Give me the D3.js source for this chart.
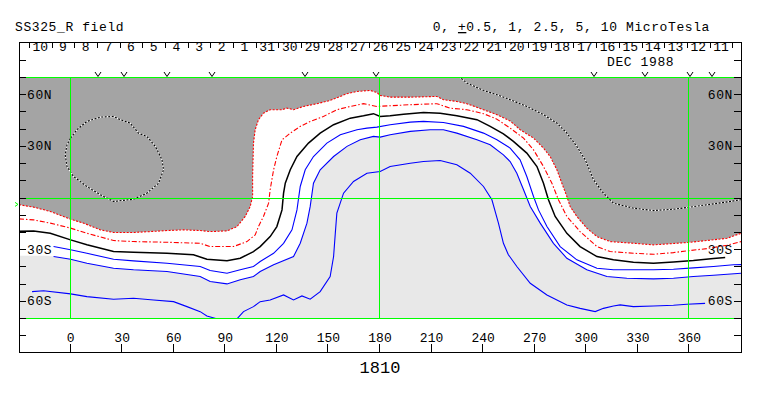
<!DOCTYPE html>
<html>
<head>
<meta charset="utf-8">
<style>
body { margin: 0; background: #fff; }
svg text { font-family: "Liberation Mono", "DejaVu Sans Mono", monospace; fill: #000; }
.frame, .tick { stroke: #000; stroke-width: 1; fill: none; shape-rendering: crispEdges; }
</style>
<script src="https://d3js.org/d3.v7.min.js"></script>
</head>
<body>
<div class="container"></div>
<script>
(function(){

// axis values
var lonTicks = [0, 30, 60, 90, 120, 150, 180, 210, 240, 270, 300, 330, 360];
var latTicks = [-70, -60, -50, -40, -30, -20, -10, 0, 10, 20, 30, 40, 50, 60, 70];
var latLabelVals = [60, 30, -30, -60];
var latLabelNames = ["60N", "30N", "30S", "60S"];
var gridLons = [0, 180, 360];
var gridLats = [-70, 0, 70];
var dayLabels = ["10","9","8","7","6","5","4","3","2","1","31","30","29","28","27","26",
                 "25","24","23","22","21","20","19","18","17","16","15","14","13","12","11"];
var dayStartLon = -24.25, dayStepLon = 13.2;
var passLons = [16, 30.8, 56.1, 82.2, 136.5, 177.6, 304.2, 334.2, 360.4, 373];
var markerLat = -4;

// contours, [lon, lat]
var zeroRing = [[0,34.5],[3.7,39.4],[9.5,44.2],[17.3,46.7],[25,47.1],[28.9,45.2],[34.7,43.2],[39.5,37.4],
  [44.4,35.5],[49.3,29.7],[53.2,21.9],[54.1,16.1],[51.2,8.3],[44.4,2.5],[36.6,-1],[25,-2.3],[17.3,1.6],
  [9.5,6.4],[1.7,12.2],[-2.1,18],[-3.1,24.8],[-2.1,30.6],[0,34.5]];
var zeroEast = [[225.7,70.5],[230.5,66.5],[240.2,62.2],[248,59.7],[255.7,56.8],[265.4,52.9],[275.1,48.1],
  [282.9,43.2],[288.7,37.4],[294.5,29.7],[299.4,21.9],[304.2,10.3],[310,2.5],[315.8,-3.3],[327.4,-6.2],
  [339.1,-7.6],[350.7,-6.8],[360.4,-5.6],[374,-3.7],[383.7,-2.3],[390,-1.3]];
var redOuter = [[-30,-4.2],[-21.5,-5.6],[-11.8,-8.1],[0,-12.6],[7.6,-14.9],[17.3,-18.8],[25,-20.3],[36.6,-20.3],
  [46.4,-19.8],[56.1,-19.2],[65.7,-18.8],[75.4,-19.2],[81.2,-19.8],[91,-19.4],[96.8,-16.9],[101.6,-11],
  [104.5,-5.2],[105.9,0.6],[105.9,12.2],[106.4,31.6],[107.4,39.4],[109.3,45.2],[112.2,49],[116.1,51],
  [123,51],[125.9,51.9],[129.7,51],[135.5,52.9],[143.3,54.5],[151,56.4],[160.8,60.3],[166.6,61.6],
  [174.3,62.2],[178.2,61],[180.1,59.3],[185.9,58.3],[197.6,58.3],[213.1,58.7],[216.9,56.8],[224.7,55.8],
  [230.5,54.5],[240.2,51],[248,48.1],[255.7,44.5],[261.5,39.4],[269.3,34.5],[275.1,28.7],[279,23.8],
  [282.9,16.1],[285.8,8.3],[288.7,0.6],[290.6,-5.2],[294.5,-11],[300.3,-17.8],[306.2,-22.7],[313.9,-25.6],
  [327.4,-26.6],[339.1,-27.5],[352.7,-26.6],[360.4,-26],[370.1,-25],[381.8,-23.7],[390,-20.8]];
var redInner = [[-30,-12.4],[-21.5,-13],[-11.8,-14.9],[0,-17.8],[9.5,-20.8],[25,-25],[36.6,-25.6],[56.1,-26],
  [75.4,-26.6],[81.2,-28.5],[94.8,-28.5],[102.6,-25.6],[107.4,-21.7],[109.3,-16.9],[112.2,-11],[115.2,-3.3],
  [116.1,4.5],[118.1,16.1],[120,23.8],[123,33.5],[127.8,37.4],[133.6,41.3],[139.4,44.2],[147.1,47.1],
  [154.9,51],[162.7,52.9],[170.4,54.5],[178.2,52.9],[185.9,53.3],[197.6,53.9],[213.1,54.5],[220.8,51.9],
  [230.5,51],[240.2,48.7],[248,45.5],[255.7,40.3],[263.5,34.5],[269.3,27.7],[275.1,18],[280,8.3],
  [283.8,-1.3],[288.7,-11],[296.4,-19.8],[306.2,-28.5],[313.9,-31.4],[327.4,-32.4],[339.1,-33],
  [350.7,-32],[360.4,-30.8],[370.1,-29.7],[381.8,-27.7],[390,-25.6]];
var blackLine = [[-30,-19.6],[-21.5,-19.4],[-11.8,-20.8],[0,-24.6],[9.5,-27.5],[25,-31.4],[36.6,-31.8],
  [56.1,-32.4],[71.5,-33.3],[79.3,-35.9],[91,-36.8],[98.7,-35.3],[106.4,-31.4],[110.3,-28.5],[116.1,-22.7],
  [120,-16.9],[123,-7.2],[123.9,2.5],[124.9,8.3],[127.8,16.1],[131.7,23.8],[138.4,31.6],[145.2,37.4],
  [153,42.3],[162.7,46.1],[170.4,47.5],[176.2,48.7],[180.1,47.1],[185.9,47.5],[193.7,48.4],[205.3,49.4],
  [215,49],[224.7,47.5],[236.4,45.2],[244.1,41.3],[251.8,37],[257.6,32.6],[265.4,25.8],[271.3,18],
  [275.1,8.3],[278,-1.3],[281.9,-11],[288.7,-20.8],[296.4,-28.5],[306.2,-34.3],[315.8,-36.2],
  [327.4,-37.6],[339.1,-38.2],[350.7,-37.4],[362.3,-36.6],[374,-35.5],[380.8,-34.9]];
var blueA = [[-9.9,-28.5],[0,-30.4],[9.5,-32.4],[25,-35.9],[36.6,-36.8],[56.1,-38.2],[75.4,-40.1],[81.2,-42.4],
  [91,-44],[98.7,-42],[106.4,-40.1],[110.3,-37.2],[118.1,-32.4],[123.9,-26.6],[128.8,-18.8],[131.7,-7.2],
  [133.6,6.4],[136.5,16.1],[141.3,23.8],[149.1,31.6],[156.9,36.5],[166.6,39.4],[172.4,40.3],[178.2,40.9],
  [185.9,42.3],[197.6,43.8],[205.3,44.2],[216.9,43.6],[228.6,41.3],[240.2,37.4],[248,33.5],[255.7,28.7],
  [261.5,21.9],[265.4,12.2],[269.3,0.6],[272.2,-7.2],[277.1,-16.9],[284.8,-28.5],[294.5,-36.2],
  [306.2,-41.1],[315.8,-42],[327.4,-42],[339.1,-42],[350.7,-41.7],[362.3,-40.9],[374,-40.1],
  [385.6,-39.1],[390,-39]];
var blueB = [[-9.9,-34.3],[0,-35.9],[9.5,-38.2],[25,-41.1],[36.6,-42],[56.1,-43],[75.4,-45.9],[81.2,-48.8],
  [91,-50.2],[98.7,-47.8],[106.4,-45.9],[110.3,-43],[118.1,-39.1],[129.7,-34.3],[133.6,-26.6],[137.5,-14.9],
  [139.4,-5.2],[141.3,8.3],[145.2,16.1],[153,23.8],[160.8,29.7],[168.5,33.5],[176.2,35.5],[180.1,35.1],
  [185.9,36.5],[197.6,38.4],[209.2,39.4],[216.9,39.4],[224.7,37.4],[236.4,33.5],[244.1,30.6],[251.8,24.8],
  [255.7,20.9],[259.6,14.1],[263.5,4.5],[267.4,-5.2],[273.2,-14.9],[280.9,-26.6],[288.7,-35.3],
  [300.3,-42],[312,-45.9],[323.6,-46.9],[339.1,-47.3],[350.7,-46.9],[362.3,-45.9],[374,-45.2],[390,-44]];
var blueC = [[-22.4,-54.7],[-15.7,-54.2],[0,-56],[9.5,-57.6],[25,-59.1],[36.6,-58.5],[48.3,-59.5],[59.9,-60.5],
  [67.7,-63.4],[75.4,-66.3],[79.3,-68.8],[85.1,-70.5],[96.8,-70.5],[100.6,-66.3],[106.4,-63.4],[110.3,-60.5],
  [116.1,-59.5],[123.9,-56.6],[129.7,-59.5],[134.6,-57.2],[139.4,-59.1],[145.2,-54.7],[151,-45.9],
  [153,-34.3],[154,-20.8],[154.9,-9.1],[158.8,2.5],[164.6,9.3],[172.4,14.1],[180.1,15.1],[185.9,18],
  [197.6,19.9],[205.3,20.9],[215,21.5],[224.7,19],[232.5,14.1],[240.2,6.4],[245.1,-1.3],[248.9,-14.9],
  [251.8,-26.6],[254.6,-33.1],[259.6,-40.1],[267.4,-49.8],[277.1,-56.6],[288.7,-62.4],[296.4,-64.4],
  [305.2,-66.3],[310,-64.4],[315.8,-63],[319.7,-62.4],[327.4,-63.4],[339.1,-63],[350.7,-62.6],
  [358.5,-62],[369.1,-61.5]];
var lightEdgeWest = [[-30,-33.8],[-14,-33.9]];

var width = 763, height = 396;
var frameTop = 42, frameBottom = 352;

var x = d3.scaleLinear().domain([-30, 390]).range([19, 741]);
var y = d3.scaleLinear().domain([-70, 70]).range([318, 77]);
var dayScale = d3.scaleLinear().domain([0, 1]).range([dayStartLon, dayStartLon + dayStepLon]);

var line = d3.line()
  .x(function(d){ return x(d[0]); })
  .y(function(d){ return y(d[1]); });

var svg = d3.select(".container")
  .append("svg")
  .attr("width", width)
  .attr("height", height);

svg.append("clipPath")
  .attr("id", "plotClip")
  .append("rect")
  .attr("x", x(-30)).attr("y", y(70))
  .attr("width", x(390) - x(-30)).attr("height", y(-70) - y(70));

var plot = svg.append("g").attr("clip-path", "url(#plotClip)");

// fills: dark gray, white south of outer red, light gray south of second blue
plot.append("rect")
  .attr("x", x(-30)).attr("y", y(70))
  .attr("width", x(390) - x(-30)).attr("height", y(-70) - y(70))
  .attr("fill", "#a4a4a4");

plot.append("path")
  .attr("d", line(redOuter.concat([[390, -71], [-30, -71]])))
  .attr("fill", "#ffffff");

plot.append("path")
  .attr("d", line(lightEdgeWest.concat(blueB, [[390, -71], [-30, -71]])))
  .attr("fill", "#e8e8e8");

// contour lines
function drawContour(data, color, w, dash){
  var p = plot.append("path")
    .attr("d", line(data))
    .attr("fill", "none")
    .attr("stroke", color)
    .attr("stroke-width", w);
  if (dash) p.attr("stroke-dasharray", dash);
  return p;
};

[zeroRing, zeroEast].forEach(function(c){
  drawContour(c, "#ffffff", 1.1, null);
  drawContour(c, "#000000", 1.1, "2,1.5");
});
drawContour(redOuter, "#ff0000", 1.1, "2,1.5");
drawContour(redInner, "#ff0000", 1.1, "5,2,1.5,2");
drawContour(blackLine, "#000000", 1.5, null);
drawContour(blueA, "#0000ff", 1.1, null);
drawContour(blueB, "#0000ff", 1.1, null);
drawContour(blueC, "#0000ff", 1.1, null);

// green grid
var grid = svg.append("g")
  .attr("stroke", "#00ff00")
  .attr("stroke-width", 1)
  .attr("shape-rendering", "crispEdges");

grid.selectAll(".gridV")
  .data(gridLons)
  .enter()
  .append("line")
  .attr("class", "gridV")
  .attr("x1", function(d){ return Math.round(x(d)) - 0.5; })
  .attr("x2", function(d){ return Math.round(x(d)) - 0.5; })
  .attr("y1", y(70)).attr("y2", y(-70));

grid.selectAll(".gridH")
  .data(gridLats)
  .enter()
  .append("line")
  .attr("class", "gridH")
  .attr("x1", x(-30)).attr("x2", x(390))
  .attr("y1", function(d){ return Math.round(y(d)) + 0.5; })
  .attr("y2", function(d){ return Math.round(y(d)) + 0.5; });

svg.append("path")
  .attr("d", "M" + (x(-30) - 4) + "," + (y(markerLat) - 2) + "l3,2l-3,2")
  .attr("fill", "none")
  .attr("stroke", "#00ff00")
  .attr("stroke-width", 1);

// frame
svg.append("rect")
  .attr("class", "frame")
  .attr("x", 19.5).attr("y", frameTop + 0.5)
  .attr("width", 722).attr("height", frameBottom - frameTop);

// latitude ticks, both sides
var latTick = svg.selectAll(".latTick")
  .data(latTicks)
  .enter()
  .append("g")
  .attr("class", "latTick");
latTick.append("line")
  .attr("class", "tick")
  .attr("x1", 19).attr("x2", 26)
  .attr("y1", function(d){ return Math.round(y(d)) + 0.5; })
  .attr("y2", function(d){ return Math.round(y(d)) + 0.5; });
latTick.append("line")
  .attr("class", "tick")
  .attr("x1", 734).attr("x2", 741)
  .attr("y1", function(d){ return Math.round(y(d)) + 0.5; })
  .attr("y2", function(d){ return Math.round(y(d)) + 0.5; });

[60.5, 335.5].forEach(function(yy){
  svg.append("line").attr("class", "tick").attr("x1", 19).attr("x2", 26).attr("y1", yy).attr("y2", yy);
  svg.append("line").attr("class", "tick").attr("x1", 734).attr("x2", 741).attr("y1", yy).attr("y2", yy);
});

svg.selectAll(".latLabelL")
  .data(latLabelVals)
  .enter()
  .append("text")
  .attr("x", 27)
  .attr("y", function(d){ return y(d) + 4.5; })
  .attr("font-size", "13px")
  .attr("letter-spacing", "0.6px")
  .text(function(d, i){ return latLabelNames[i]; });

svg.selectAll(".latLabelR")
  .data(latLabelVals)
  .enter()
  .append("text")
  .attr("x", 733)
  .attr("y", function(d){ return y(d) + 4.5; })
  .attr("text-anchor", "end")
  .attr("font-size", "13px")
  .attr("letter-spacing", "0.6px")
  .text(function(d, i){ return latLabelNames[i]; });

// longitude ticks and labels
svg.selectAll(".lonTick")
  .data(lonTicks)
  .enter()
  .append("line")
  .attr("class", "tick")
  .attr("x1", function(d){ return Math.round(x(d)) - 0.5; })
  .attr("x2", function(d){ return Math.round(x(d)) - 0.5; })
  .attr("y1", 344).attr("y2", frameBottom);

svg.selectAll(".lonLabel")
  .data(lonTicks)
  .enter()
  .append("text")
  .attr("x", function(d){ return x(d); })
  .attr("y", 342)
  .attr("text-anchor", "middle")
  .attr("font-size", "13px")
  .text(function(d){ return d; });

svg.append("text")
  .attr("x", x(180))
  .attr("y", 373)
  .attr("text-anchor", "middle")
  .attr("font-size", "17px")
  .text("1810");

// date strip
svg.selectAll(".dayTick")
  .data(d3.range(dayLabels.length + 1))
  .enter()
  .append("line")
  .attr("class", "tick")
  .attr("x1", function(d){ return Math.round(x(dayScale(d))) + 0.5; })
  .attr("x2", function(d){ return Math.round(x(dayScale(d))) + 0.5; })
  .attr("y1", 43).attr("y2", 48);

svg.selectAll(".dayLabel")
  .data(dayLabels)
  .enter()
  .append("text")
  .attr("x", function(d, i){ return x(dayScale(i + 0.5)); })
  .attr("y", 51)
  .attr("text-anchor", "middle")
  .attr("font-size", "13px")
  .text(function(d){ return d; });

svg.append("text")
  .attr("x", 607).attr("y", 66)
  .attr("font-size", "13px")
  .attr("letter-spacing", "0.6px")
  .text("DEC 1988");

svg.selectAll(".pass")
  .data(passLons)
  .enter()
  .append("path")
  .attr("d", function(d){
    var px = Math.round(x(d));
    return "M" + (px - 3) + ",72L" + px + ",76.5L" + (px + 3) + ",72";
  })
  .attr("fill", "none")
  .attr("stroke", "#000")
  .attr("stroke-width", 1);

// titles
svg.append("text")
  .attr("x", 15).attr("y", 31)
  .attr("font-size", "13px")
  .attr("letter-spacing", "0.6px")
  .text("SS325_R field");

var rt = svg.append("text")
  .attr("x", 710).attr("y", 31)
  .attr("text-anchor", "end")
  .attr("font-size", "13px")
  .attr("letter-spacing", "0.6px");
rt.append("tspan").text("0, ");
rt.append("tspan").attr("text-decoration", "underline").text("+");
rt.append("tspan").text("0.5, 1, 2.5, 5, 10 MicroTesla");

})();
</script>
</body>
</html>
